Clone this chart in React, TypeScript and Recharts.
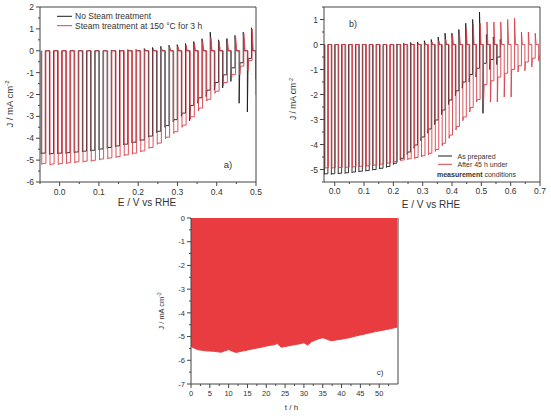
import React from "react";
import { LineChart, Line, XAxis, YAxis, ReferenceLine, AreaChart, Area } from "recharts";

// panel a) chopped-light scans, steam treated vs not
const A_BLACK_E = [-0.047, -0.026, -0.005, 0.016, 0.037, 0.058, 0.079, 0.1, 0.121, 0.142, 0.163, 0.184, 0.205, 0.226, 0.247, 0.268, 0.289, 0.31, 0.331, 0.352, 0.373, 0.394, 0.415, 0.436, 0.457, 0.478, 0.499];
const A_BLACK_JSS = [-4.68, -4.7, -4.68, -4.66, -4.63, -4.59, -4.55, -4.49, -4.42, -4.35, -4.27, -4.18, -4.08, -3.9, -3.68, -3.42, -3.15, -2.85, -2.5, -2.15, -1.8, -1.45, -1.1, -0.78, -0.55, -0.35, -1.3];
const A_BLACK_JON = [-4.72, -4.74, -4.72, -4.7, -4.67, -4.63, -4.59, -4.53, -4.46, -4.39, -4.31, -4.22, -4.12, -3.95, -3.74, -3.5, -3.25, -3.0, -3.2, -2.4, -2.1, -1.8, -1.7, -1.4, -2.4, -2.8, -1.3];
const A_BLACK_JPOS = [0, 0, 0, 0, 0, 0, 0, 0, 0.02, 0.03, 0.05, 0.06, 0.1, 0.15, 0.2, 0.25, 0.28, 0.33, 0.42, 0.55, 0.85, 0.5, 0.55, 0.7, 0.85, 1.05, 0];

const A_RED_E = [-0.0455, -0.0245, -0.0035, 0.0175, 0.0385, 0.0595, 0.0805, 0.1015, 0.1225, 0.1435, 0.1645, 0.1855, 0.2065, 0.2275, 0.2485, 0.2695, 0.2905, 0.3115, 0.3325, 0.3535, 0.3745, 0.3955, 0.4165, 0.4375, 0.4585, 0.4795, 0.4995];
const A_RED_JSS = [-5.15, -5.18, -5.16, -5.12, -5.08, -5.05, -5.01, -4.95, -4.9, -4.84, -4.76, -4.68, -4.58, -4.42, -4.22, -3.95, -3.7, -3.4, -3.02, -2.62, -2.22, -1.85, -1.45, -1.08, -0.7, -0.45, -2.0];
const A_RED_JON = [-5.2, -5.23, -5.21, -5.17, -5.13, -5.1, -5.06, -5.0, -4.95, -4.89, -4.81, -4.73, -4.63, -4.47, -4.28, -4.02, -3.78, -3.5, -3.12, -2.75, -2.3, -1.95, -1.6, -1.25, -1.1, -0.9, -2.0];
const A_RED_JPOS = [0, 0, 0, 0, 0, 0, 0, 0, 0, 0, 0, 0.02, 0.05, 0.08, 0.12, 0.17, 0.2, 0.25, 0.35, 0.45, 0.6, 0.45, 0.55, 0.65, 0.8, 1.0, 0];
const A_HALF = 0.0105;

// panel b) as prepared vs after 45 h
const B_BLACK_E = [-0.035, -0.0115, 0.012, 0.0355, 0.059, 0.0825, 0.106, 0.1295, 0.153, 0.1765, 0.2, 0.2235, 0.247, 0.2705, 0.294, 0.3175, 0.341, 0.3645, 0.388, 0.4115, 0.435, 0.4585, 0.482, 0.5055, 0.529, 0.5525];
const B_BLACK_JSS = [-5.17, -5.17, -5.15, -5.13, -5.1, -5.07, -5.04, -5.0, -4.95, -4.88, -4.75, -4.55, -4.3, -4.02, -3.7, -3.38, -3.02, -2.62, -2.22, -1.85, -1.5, -1.2, -0.95, -0.75, -0.6, -0.5];
const B_BLACK_JON = [-5.2, -5.2, -5.18, -5.16, -5.13, -5.1, -5.07, -5.03, -4.98, -4.92, -4.8, -4.62, -4.4, -4.15, -3.85, -3.55, -3.2, -2.8, -2.4, -2.05, -1.75, -1.5, -1.3, -2.75, -1.0, -0.8];
const B_BLACK_JPOS = [0, 0, 0, 0, 0, 0, 0, 0, 0, 0, 0.02, 0.05, 0.08, 0.1, 0.15, 0.2, 0.3, 0.45, 0.45, 0.6, 0.85, 1.0, 1.3, 0.4, 0.3, 0.2];

const B_RED_E = [-0.033, -0.0095, 0.014, 0.0375, 0.061, 0.0845, 0.108, 0.1315, 0.155, 0.1785, 0.202, 0.2255, 0.249, 0.2725, 0.296, 0.3195, 0.343, 0.3665, 0.39, 0.4135, 0.437, 0.4605, 0.484, 0.5075, 0.531, 0.5545, 0.578, 0.6015, 0.625, 0.6485, 0.672, 0.6955];
const B_RED_JSS = [-4.93, -4.93, -4.92, -4.91, -4.89, -4.87, -4.85, -4.82, -4.78, -4.74, -4.68, -4.62, -4.57, -4.52, -4.45, -4.35, -4.2, -3.95, -3.62, -3.28, -2.9, -2.52, -2.2, -1.6, -1.45, -1.3, -1.15, -1.0, -0.85, -0.7, -0.55, -0.45];
const B_RED_JON = [-4.96, -4.96, -4.95, -4.94, -4.92, -4.9, -4.88, -4.85, -4.81, -4.77, -4.71, -4.66, -4.61, -4.57, -4.5, -4.42, -4.28, -4.05, -3.75, -3.42, -3.05, -2.7, -2.3, -2.35, -2.3, -2.3, -2.1, -2.1, -1.1, -1.05, -0.9, -0.65];
const B_RED_JPOS = [0, 0, 0, 0, 0, 0, 0, 0, 0, 0, 0, 0, 0, 0.02, 0.05, 0.1, 0.15, 0.22, 0.35, 0.45, 0.6, 0.8, 0.85, 0.9, 0.9, 0.9, 1.0, 1.05, 0.5, 0.5, 0.45, 0];
const B_HALF = 0.01175;

// panel c) long-term chopped run, lower envelope of the current
const C_T = [0, 1, 2, 3, 4, 5, 6, 7, 8, 9, 10, 11, 12, 13, 14, 15, 16, 17, 18, 19, 20, 21, 22, 23, 24, 25, 26, 27, 28, 29, 30, 31, 32, 33, 34, 35, 36, 37, 38, 39, 40, 41, 42, 43, 44, 45, 46, 47, 48, 49, 50, 51, 52, 53, 54, 54.8];
const C_J = [-5.42, -5.5, -5.56, -5.58, -5.6, -5.61, -5.62, -5.64, -5.66, -5.6, -5.55, -5.62, -5.67, -5.63, -5.6, -5.57, -5.53, -5.5, -5.47, -5.44, -5.4, -5.37, -5.35, -5.29, -5.45, -5.42, -5.39, -5.36, -5.33, -5.3, -5.26, -5.36, -5.22, -5.15, -5.09, -5.05, -5.1, -5.17, -5.16, -5.13, -5.11, -5.08, -5.05, -5.01, -4.97, -4.93, -4.9, -4.86, -4.83, -4.79, -4.76, -4.73, -4.7, -4.67, -4.63, -4.6];

const A_X_TICKS = [-0.05, 0, 0.05, 0.1, 0.15, 0.2, 0.25, 0.3, 0.35, 0.4, 0.45, 0.5];
const A_Y_TICKS = [2, 1.5, 1, 0.5, 0, -0.5, -1, -1.5, -2, -2.5, -3, -3.5, -4, -4.5, -5, -5.5, -6];
const B_X_TICKS = [0, 0.05, 0.1, 0.15, 0.2, 0.25, 0.3, 0.35, 0.4, 0.45, 0.5, 0.55, 0.6, 0.65, 0.7];
const B_Y_TICKS = [1.5, 1, 0.5, 0, -0.5, -1, -1.5, -2, -2.5, -3, -3.5, -4, -4.5, -5, -5.5];
const C_X_TICKS = [0, 2.5, 5, 7.5, 10, 12.5, 15, 17.5, 20, 22.5, 25, 27.5, 30, 32.5, 35, 37.5, 40, 42.5, 45, 47.5, 50, 52.5];
const C_Y_TICKS = [0, -0.5, -1, -1.5, -2, -2.5, -3, -3.5, -4, -4.5, -5, -5.5, -6, -6.5, -7];

const AXIS = "#444";
const TXT = "#333";
const BLACK = "#1c1c1c";
const RED = "#d9404a";
const FILL = "#e83c40";
const FONT = "'Liberation Sans', Arial, sans-serif";

function chops(e: number[], jon: number[], jss: number[], jpos: number[], half: number) {
  const pts: { e: number; j: number }[] = [];
  e.forEach((e0, i) => {
    pts.push({ e: e0, j: 0 });
    pts.push({ e: e0, j: jon[i] });
    pts.push({ e: e0 + 0.002, j: jss[i] });
    pts.push({ e: e0 + half, j: jss[i] });
    pts.push({ e: e0 + half, j: jpos[i] });
    pts.push({ e: e0 + half + 0.003, j: 0 });
  });
  return pts;
}

const aBlack = chops(A_BLACK_E, A_BLACK_JON, A_BLACK_JSS, A_BLACK_JPOS, A_HALF);
const aRed = chops(A_RED_E, A_RED_JON, A_RED_JSS, A_RED_JPOS, A_HALF);
const bBlack = chops(B_BLACK_E, B_BLACK_JON, B_BLACK_JSS, B_BLACK_JPOS, B_HALF);
const bRed = chops(B_RED_E, B_RED_JON, B_RED_JSS, B_RED_JPOS, B_HALF);
const cData = C_T.map((t, i) => ({ t, j: C_J[i] }));

const intMajor = (v: number) => Number.isInteger(v);
const tenthMajor = (v: number) => Math.abs(v * 10 - Math.round(v * 10)) < 1e-6;
const fiveMajor = (v: number) => v % 5 === 0;

function yTick(isMajor: (v: number) => boolean, fs: number) {
  return (p: any) => {
    const v = p.payload.value;
    const major = isMajor(v);
    return (
      <g>
        <line x1={p.x} x2={p.x - (major ? 4 : 2)} y1={p.y} y2={p.y} stroke={AXIS} />
        {major && (
          <text x={p.x - 6} y={p.y} dy={fs * 0.36} textAnchor="end" fontSize={fs} fill={TXT} fontFamily={FONT}>
            {String(v)}
          </text>
        )}
      </g>
    );
  };
}

function xTick(isMajor: (v: number) => boolean, fs: number, fmt: (v: number) => string, gap: number) {
  return (p: any) => {
    const v = p.payload.value;
    const major = isMajor(v);
    return (
      <g>
        <line x1={p.x} x2={p.x} y1={p.y} y2={p.y + (major ? 4 : 2)} stroke={AXIS} />
        {major && (
          <text x={p.x} y={p.y + gap} textAnchor="middle" fontSize={fs} fill={TXT} fontFamily={FONT}>
            {fmt(v)}
          </text>
        )}
      </g>
    );
  };
}

const abs: React.CSSProperties = { position: "absolute" };

function YTitle({ x, y, fs }: { x: number; y: number; fs: number }) {
  return (
    <text x={x} y={y} transform={`rotate(-90 ${x} ${y})`} textAnchor="middle" fontSize={fs} fill={TXT} fontFamily={FONT}>
      J / mA cm<tspan dy={-fs * 0.4} fontSize={fs * 0.65}>-2</tspan>
    </text>
  );
}

export default function App() {
  return (
    <div style={{ ...abs, left: 0, top: 0, width: 551, height: 420, background: "#fff" }}>
      <div style={{ ...abs, left: 0, top: 0 }}>
        <LineChart width={275} height={215} margin={{ top: 7, right: 19, bottom: 13, left: 10 }}>
          <XAxis type="number" dataKey="e" domain={[-0.05, 0.5]} ticks={A_X_TICKS} interval={0} allowDataOverflow
            height={20} tickSize={0} tickMargin={0} tickLine={false} axisLine={{ stroke: AXIS }}
            tick={xTick(tenthMajor, 8.5, (v) => v.toFixed(1), 12.5)} />
          <YAxis type="number" domain={[-6, 2]} ticks={A_Y_TICKS} interval={0} allowDataOverflow
            width={30} tickSize={0} tickMargin={0} tickLine={false} axisLine={{ stroke: AXIS }}
            tick={yTick(intMajor, 8.5)} />
          <ReferenceLine y={2} stroke={AXIS} />
          <ReferenceLine x={0.5} stroke={AXIS} />
          <Line data={aBlack} dataKey="j" type="linear" stroke={BLACK} strokeWidth={0.9} dot={false} isAnimationActive={false} />
          <Line data={aRed} dataKey="j" type="linear" stroke={RED} strokeWidth={0.9} dot={false} isAnimationActive={false} />
        </LineChart>
      </div>
      <div style={{ ...abs, left: 275, top: 0 }}>
        <LineChart width={276} height={215} margin={{ top: 7, right: 11, bottom: 13, left: 19 }}>
          <XAxis type="number" dataKey="e" domain={[-0.0365, 0.7]} ticks={B_X_TICKS} interval={0} allowDataOverflow
            height={20} tickSize={0} tickMargin={0} tickLine={false} axisLine={{ stroke: AXIS }}
            tick={xTick(tenthMajor, 8.5, (v) => v.toFixed(1), 11.5)} />
          <YAxis type="number" domain={[-5.5, 1.5]} ticks={B_Y_TICKS} interval={0} allowDataOverflow
            width={30} tickSize={0} tickMargin={0} tickLine={false} axisLine={{ stroke: AXIS }}
            tick={yTick(intMajor, 8.5)} />
          <ReferenceLine y={1.5} stroke={AXIS} />
          <ReferenceLine x={0.7} stroke={AXIS} />
          <Line data={bBlack} dataKey="j" type="linear" stroke={BLACK} strokeWidth={0.9} dot={false} isAnimationActive={false} />
          <Line data={bRed} dataKey="j" type="linear" stroke={RED} strokeWidth={0.9} dot={false} isAnimationActive={false} />
        </LineChart>
      </div>
      <div style={{ ...abs, left: 150, top: 215 }}>
        <AreaChart width={260} height={205} data={cData} margin={{ top: 3, right: 12, bottom: 16, left: 11 }}>
          <XAxis type="number" dataKey="t" domain={[0, 55]} ticks={C_X_TICKS} interval={0} allowDataOverflow
            height={20} tickSize={0} tickMargin={0} tickLine={false} axisLine={{ stroke: AXIS }}
            tick={xTick(fiveMajor, 7.5, (v) => String(v), 11.5)} />
          <YAxis type="number" domain={[-7, 0]} ticks={C_Y_TICKS} interval={0} allowDataOverflow
            width={30} tickSize={0} tickMargin={0} tickLine={false} axisLine={{ stroke: AXIS }}
            tick={yTick(intMajor, 7.5)} />
          <Area dataKey="j" type="linear" baseValue={0} stroke={FILL} strokeWidth={1} fill={FILL} fillOpacity={1} isAnimationActive={false} />
          <ReferenceLine x={55} stroke={AXIS} />
        </AreaChart>
      </div>
      <svg width={551} height={420} style={{ ...abs, left: 0, top: 0, pointerEvents: "none" }}>
        {/* panel a */}
        <YTitle x={13} y={104} fs={9.5} />
        <text x={147} y={206} textAnchor="middle" fontSize={10} fill={TXT} fontFamily={FONT}>E / V vs RHE</text>
        <line x1={57} x2={72} y1={16.3} y2={16.3} stroke={BLACK} />
        <text x={75} y={19.3} fontSize={8.5} fill={TXT} fontFamily={FONT}>No Steam treatment</text>
        <line x1={57} x2={72} y1={25.7} y2={25.7} stroke={RED} />
        <text x={75} y={28.7} fontSize={8.5} fill={TXT} fontFamily={FONT}>Steam treatment at 150 °C for 3 h</text>
        <text x={228} y={168} textAnchor="middle" fontSize={9.5} fill={TXT} fontFamily={FONT}>a)</text>
        {/* panel b */}
        <YTitle x={296} y={99} fs={8.5} />
        <text x={431} y={207.5} textAnchor="middle" fontSize={10} fill={TXT} fontFamily={FONT}>E / V vs RHE</text>
        <text x={353} y={27} textAnchor="middle" fontSize={9} fill={TXT} fontFamily={FONT}>b)</text>
        <line x1={438} x2={452} y1={156} y2={156} stroke={BLACK} />
        <text x={457.5} y={158.6} fontSize={7} fill={TXT} fontFamily={FONT}>As prepared</text>
        <line x1={438} x2={452} y1={164.3} y2={164.3} stroke={RED} />
        <text x={457.5} y={167} fontSize={7} fill={TXT} fontFamily={FONT}>After 45 h under</text>
        <text x={437} y={177} fontSize={7} fill={TXT} fontFamily={FONT}>
          <tspan fontWeight="bold">measurement</tspan> conditions
        </text>
        {/* panel c */}
        <YTitle x={164} y={311} fs={7.5} />
        <text x={291.5} y={410} textAnchor="middle" fontSize={8} fill={TXT} fontFamily={FONT}>t / h</text>
        <text x={380} y={375} textAnchor="middle" fontSize={8} fill={TXT} fontFamily={FONT}>c)</text>
      </svg>
    </div>
  );
}
